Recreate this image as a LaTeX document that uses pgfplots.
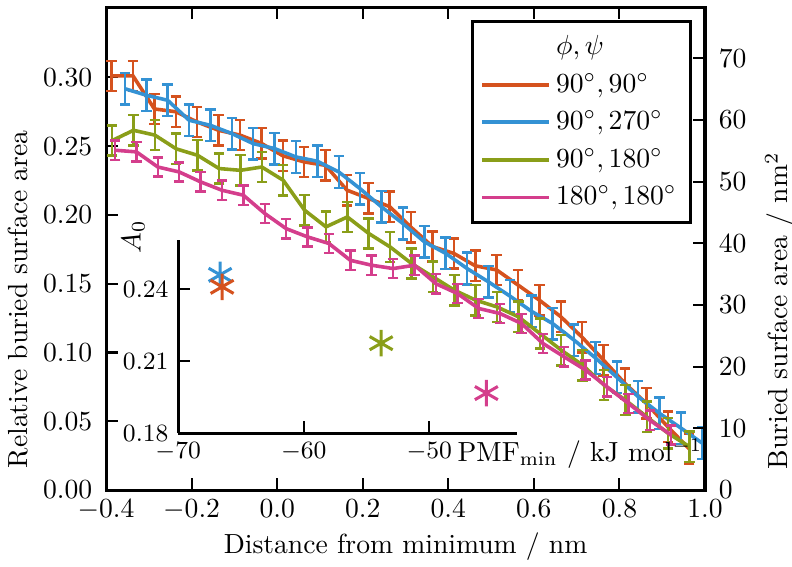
\documentclass[border=0pt]{standalone}
\usepackage{pgfplots}
\usepackage{pgfplotstable}
\pgfplotsset{compat=1.18}
\definecolor{cred}{RGB}{213,82,30}
\definecolor{cblue}{RGB}{52,146,212}
\definecolor{cgreen}{RGB}{138,158,25}
\definecolor{cpink}{RGB}{212,62,140}
\pgfplotstableread{
x y e
-0.387 0.301 0.011
-0.337 0.301 0.011
-0.287 0.277 0.011
-0.237 0.275 0.011
-0.187 0.2675 0.011
-0.137 0.2615 0.011
-0.087 0.258 0.011
-0.037 0.252 0.011
0.013 0.243 0.011
0.063 0.2385 0.011
0.113 0.236 0.011
0.163 0.218 0.011
0.213 0.212 0.011
0.263 0.206 0.011
0.313 0.191 0.011
0.363 0.177 0.011
0.413 0.172 0.011
0.463 0.163 0.011
0.513 0.160 0.011
0.563 0.149 0.011
0.613 0.138 0.011
0.663 0.126 0.011
0.713 0.111 0.011
0.763 0.0944 0.011
0.813 0.0775 0.011
0.863 0.063 0.011
0.913 0.046 0.011
0.963 0.030 0.011
}\redtab
\pgfplotstableread{
x y e
-0.356 0.2917 0.0115
-0.306 0.287 0.0115
-0.256 0.2833 0.0115
-0.206 0.2688 0.0115
-0.156 0.2651 0.0115
-0.106 0.2591 0.0115
-0.056 0.2518 0.0115
-0.006 0.2482 0.0115
0.044 0.2421 0.0115
0.094 0.2390 0.0115
0.144 0.2312 0.0115
0.194 0.219 0.0115
0.244 0.2058 0.0115
0.294 0.1937 0.0115
0.344 0.1804 0.0115
0.394 0.172 0.0115
0.444 0.161 0.0115
0.494 0.1513 0.0115
0.544 0.141 0.0115
0.594 0.130 0.0115
0.644 0.121 0.0115
0.694 0.109 0.0115
0.744 0.096 0.0115
0.794 0.082 0.0115
0.844 0.0678 0.0115
0.894 0.0557 0.0115
0.944 0.045 0.0115
0.994 0.034 0.0115
}\bluetab
\pgfplotstableread{
x y e
-0.386 0.254 0.011
-0.336 0.2615 0.011
-0.286 0.258 0.011
-0.236 0.248 0.011
-0.186 0.2433 0.011
-0.136 0.2337 0.011
-0.086 0.2324 0.011
-0.036 0.2348 0.011
0.014 0.2252 0.011
0.064 0.2034 0.011
0.114 0.1913 0.011
0.164 0.1985 0.011
0.214 0.1865 0.011
0.264 0.1767 0.011
0.314 0.1647 0.011
0.364 0.155 0.011
0.414 0.1453 0.011
0.464 0.138 0.011
0.514 0.1331 0.011
0.564 0.1259 0.011
0.614 0.1138 0.011
0.664 0.1017 0.011
0.714 0.0908 0.011
0.764 0.0763 0.011
0.814 0.0654 0.011
0.864 0.0532 0.011
0.914 0.0412 0.011
0.964 0.0315 0.011
}\greentab
\pgfplotstableread{
x y e
-0.379 0.247 0.007
-0.329 0.2458 0.007
-0.279 0.2348 0.007
-0.229 0.2312 0.007
-0.179 0.224 0.007
-0.129 0.2179 0.007
-0.079 0.2143 0.007
-0.029 0.201 0.007
0.021 0.190 0.007
0.071 0.184 0.007
0.121 0.1792 0.007
0.171 0.167 0.007
0.221 0.1634 0.007
0.271 0.161 0.007
0.321 0.1634 0.007
0.371 0.150 0.007
0.421 0.1429 0.007
0.471 0.132 0.007
0.521 0.1283 0.007
0.571 0.1211 0.007
0.621 0.1066 0.007
0.671 0.0968 0.007
0.721 0.0872 0.007
0.771 0.075 0.007
0.821 0.063 0.007
0.871 0.0508 0.007
0.921 0.040 0.007
}\pinktab
\begin{document}
\begin{tikzpicture}
\useasboundingbox (-38.4pt,-27.5pt) rectangle (248.3pt,177.4pt);
\pgfplotsset{
  myerr/.style={
    error bars/.cd, y dir=both, y explicit,
    error bar style={line width=0.9pt, solid},
    error mark options={rotate=90, mark size=1.9pt, line width=0.9pt}},
}
% main axis
\begin{axis}[
  at={(0pt,0pt)}, anchor=south west,
  scale only axis, width=216.8pt, height=174.8pt,
  xmin=-0.4, xmax=1.0, ymin=0, ymax=0.351,
  xtick={-0.4,-0.2,0,0.2,0.4,0.6,0.8,1.0},
  ytick={0,0.05,0.1,0.15,0.2,0.25,0.3},
  xtick pos=both, ytick pos=left,
  tick align=inside, major tick length=4.3pt,
  every tick/.style={black, line width=0.75pt},
  axis line style={line width=1.1pt},
  xticklabel style={/pgf/number format/.cd, fixed, fixed zerofill, precision=1},
  yticklabel style={xshift=-1.5pt, /pgf/number format/.cd, fixed, fixed zerofill, precision=2},
  xlabel={Distance from minimum / nm},
  ylabel={Relative buried surface area},
  xlabel style={at={(axis description cs:0.5,0)}, anchor=center, yshift=-20.6pt},
  ylabel style={at={(axis description cs:-0.147,0.395)}, anchor=center},
  legend style={at={(1,1)}, anchor=north east, xshift=-4.7pt, yshift=-4.7pt,
    draw=black, line width=1.1pt, fill=white, inner sep=3pt,
    row sep=1.2pt, cells={anchor=west}},
  legend image code/.code={\path (-4pt,0pt) -- (20pt,0pt);
    \draw[#1, line width=1.3pt] (0pt,0pt) -- (14.8pt,0pt);},
]
\addlegendimage{empty legend}
\addlegendentry{$\phi,\psi$}
\addplot[cred, line width=1.3pt, myerr] table[x=x, y=y, y error=e]{\redtab};
\addlegendentry{$90^\circ,90^\circ$}
\addplot[cblue, line width=1.3pt, myerr] table[x=x, y=y, y error=e]{\bluetab};
\addlegendentry{$90^\circ,270^\circ$}
\addplot[cgreen, line width=1.3pt, myerr] table[x=x, y=y, y error=e]{\greentab};
\addlegendentry{$90^\circ,180^\circ$}
\addplot[cpink, line width=1.3pt, myerr] table[x=x, y=y, y error=e]{\pinktab};
\addlegendentry{$180^\circ,180^\circ$}
\end{axis}
% right axis
\begin{axis}[
  at={(0pt,0pt)}, anchor=south west,
  scale only axis, width=216.8pt, height=174.8pt,
  xmin=-0.4, xmax=1.0, ymin=0, ymax=78.3,
  axis x line=none, axis y line*=right,
  axis line style={line width=1.1pt, -},
  ytick={0,10,20,30,40,50,60,70},
  yticklabel style={xshift=1.5pt},
  tick align=inside, major tick length=4.3pt,
  every tick/.style={black, line width=0.75pt},
  ylabel={Buried surface area / nm$^2$},
  ylabel style={at={(axis description cs:1.125,0.371)}, anchor=center},
]
\addplot[draw=none] coordinates {(0,0)};
\end{axis}
% inset
\begin{axis}[
  at={(26.1pt,20.6pt)}, anchor=south west,
  scale only axis, width=122.7pt, height=69.9pt,
  xmin=-70, xmax=-43, ymin=0.18, ymax=0.2605,
  axis x line*=bottom, axis y line*=left,
  axis line style={line width=1.1pt, -},
  xtick={-70,-60,-50}, ytick={0.18,0.21,0.24},
  tick align=inside, major tick length=4.3pt,
  every tick/.style={black, line width=0.75pt},
  yticklabel style={font=\small, /pgf/number format/.cd, fixed, fixed zerofill, precision=2},
  xticklabel style={font=\small},
  clip=false,
]
\addplot[only marks, mark=asterisk, mark size=4.8pt, cblue, line width=1.1pt] coordinates {(-66.66,0.246)};
\addplot[only marks, mark=asterisk, mark size=4.8pt, cred, line width=1.1pt] coordinates {(-66.5,0.241)};
\addplot[only marks, mark=asterisk, mark size=4.8pt, cgreen, line width=1.1pt] coordinates {(-53.83,0.2175)};
\addplot[only marks, mark=asterisk, mark size=4.8pt, cpink, line width=1.1pt] coordinates {(-45.45,0.1967)};
\node[xshift=-16.3pt, rotate=90, anchor=center] at (rel axis cs:0,1.016) {$A_0$};
\node[yshift=-10.1pt, anchor=base west, inner sep=0pt] at (rel axis cs:0.823,0) {$\mathrm{PMF}_\mathrm{min}$ / kJ mol$^{-1}$};
\end{axis}
\end{tikzpicture}
\end{document}
